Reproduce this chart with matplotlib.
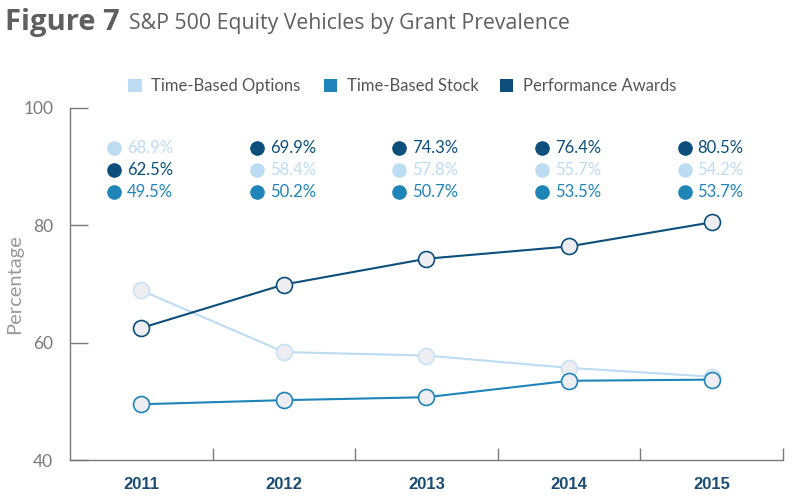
import numpy as np
import matplotlib.pyplot as plt
import matplotlib.transforms as mtransforms
from matplotlib.patches import Rectangle

# data
years = [2011, 2012, 2013, 2014, 2015]
options = [68.9, 58.4, 57.8, 55.7, 54.2]
stock = [49.5, 50.2, 50.7, 53.5, 53.7]
perf = [62.5, 69.9, 74.3, 76.4, 80.5]
names = ["Time-Based Options", "Time-Based Stock", "Performance Awards"]

c_opt = "#bcdcf2"
c_stock = "#1f84b8"
c_perf = "#0b4f7a"
colors = [c_opt, c_stock, c_perf]
gray = "#7a7a7a"

plt.rcParams['font.family'] = ['Lato', 'DejaVu Sans']

fig = plt.figure(figsize=(7.93, 4.98), dpi=100)
ax = fig.add_axes([0.0883, 0.0763, 0.899, 0.707])

x = np.arange(len(years))
series = [options, stock, perf]
# draw lightest first so dark lines sit on top
for vals, col in zip(series, colors):
    ax.plot(x, vals, color=col, lw=1.5, marker='o', ms=11.5,
            markerfacecolor="#eeeef2", markeredgecolor=col if col != c_opt else "#c6e2f5",
            markeredgewidth=1.2, zorder=3)

ax.set_xlim(-0.5, len(years) - 0.5)
ax.set_ylim(40, 100)
ax.set_yticks([40, 60, 80, 100])
ax.set_yticklabels(["40", "60", "80", "100"], color=gray, fontsize=12.5)
ax.tick_params(axis='y', direction='in', length=13, width=1, color=gray, pad=12)
ax.set_xticks(x + 0.5, minor=False)
ax.set_xticklabels([])
ax.tick_params(axis='x', direction='in', length=9, width=1, color=gray)
blend = mtransforms.blended_transform_factory(ax.transData, ax.transAxes)
for i, yr in enumerate(years):
    ax.text(i, -0.07, str(yr), transform=blend,
            ha='center', va='center', fontsize=12, fontweight='bold', color="#1b4c74",
            family=['Liberation Sans', 'DejaVu Sans'])

for s in ['top', 'right']:
    ax.spines[s].set_visible(False)
for s in ['left', 'bottom']:
    ax.spines[s].set_color(gray)
    ax.spines[s].set_linewidth(1)

ax.set_ylabel("Percentage", color="#9a9a9a", fontsize=14.5)
ax.yaxis.set_label_coords(-0.066, 0.5)

# value table above the lines, sorted high to low in each year
row_y = [0.886, 0.824, 0.761]
for i in range(len(years)):
    vals = [(options[i], c_opt), (stock[i], c_stock), (perf[i], c_perf)]
    vals.sort(key=lambda v: -v[0])
    for (v, col), yy in zip(vals, row_y):
        ax.plot([i - 0.19], [yy], marker='o', ms=9.5, color=col, transform=blend, clip_on=False)
        ax.text(i - 0.10, yy, "%.1f%%" % v, color=col, fontsize=12, va='center', ha='left',
                transform=blend)

# legend row
leg_x = [0.162, 0.408, 0.630]
for lx, name, col in zip(leg_x, names, colors):
    fig.patches.append(Rectangle((lx, 0.815), 0.0165, 0.026, transform=fig.transFigure,
                                 facecolor=col, edgecolor='none'))
    fig.text(lx + 0.029, 0.828, name, color="#555555", fontsize=12, va='center', ha='left')

fig.text(0.006, 0.955, "Figure 7", fontsize=21, fontweight='bold', color="#5f5f5f", va='center',
         family=['Open Sans', 'DejaVu Sans'])
fig.text(0.163, 0.952, "S&P 500 Equity Vehicles by Grant Prevalence", fontsize=15.3, color="#5f5f5f",
         va='center', family=['Open Sans', 'DejaVu Sans'])

fig.savefig("out.png", dpi=100)
